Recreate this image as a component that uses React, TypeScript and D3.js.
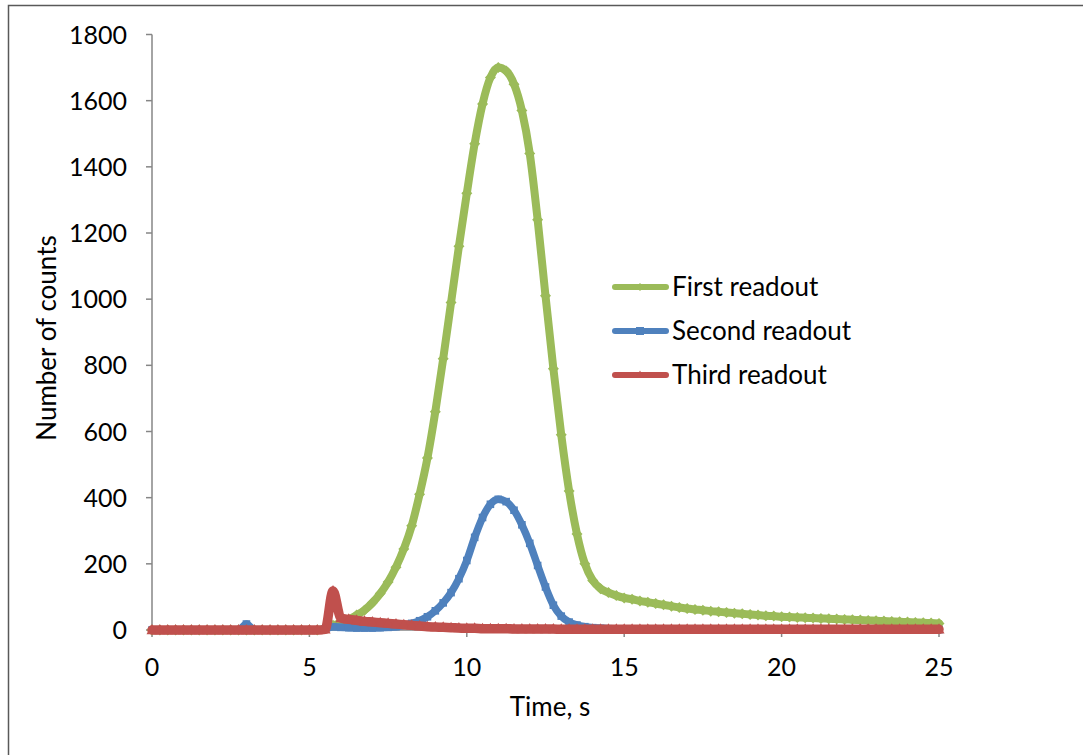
import React from 'react';
import * as d3 from 'd3';

// ---- data (time grid every 0.25 s, 101 samples from 0 to 25 s) ----
const times: number[] = d3.range(0, 25.0001, 0.25);

// each row = one second (t, t+0.25, t+0.5, t+0.75)
const firstReadout: number[] = [
  /* 0 */ 0, 0, 0, 0,
  /* 1 */ 0, 0, 0, 0,
  /* 2 */ 0, 0, 0, 0,
  /* 3 */ 0, 0, 0, 0,
  /* 4 */ 0, 0, 0, 0,
  /* 5 */ 0, 0, 5, 14,
  /* 6 */ 22, 32, 45, 60,
  /* 7 */ 82, 110, 145, 190,
  /* 8 */ 245, 315, 410, 520,
  /* 9 */ 660, 820, 990, 1160,
  /* 10 */ 1320, 1470, 1590, 1670,
  /* 11 */ 1700, 1690, 1650, 1570,
  /* 12 */ 1440, 1240, 1010, 790,
  /* 13 */ 590, 420, 290, 200,
  /* 14 */ 150, 125, 113, 104,
  /* 15 */ 97, 93, 88, 84,
  /* 16 */ 80, 76, 72, 68,
  /* 17 */ 65, 62, 60, 57,
  /* 18 */ 55, 53, 51, 49,
  /* 19 */ 47, 45, 43, 42,
  /* 20 */ 40, 39, 38, 37,
  /* 21 */ 36, 35, 34, 33,
  /* 22 */ 32, 31, 30, 29,
  /* 23 */ 28, 27, 26, 25,
  /* 24 */ 24, 23, 22, 21,
  /* 25 */ 20,
];

const secondReadout: number[] = [
  /* 0 */ 0, 0, 0, 0,
  /* 1 */ 0, 0, 0, 0,
  /* 2 */ 0, 0, 0, 0,
  /* 3 */ 18, 0, 0, 0,
  /* 4 */ 0, 0, 0, 0,
  /* 5 */ 0, 0, 3, 10,
  /* 6 */ 8, 7, 6, 6,
  /* 7 */ 6, 7, 8, 10,
  /* 8 */ 14, 20, 28, 40,
  /* 9 */ 58, 82, 113, 155,
  /* 10 */ 210, 280, 340, 380,
  /* 11 */ 395, 388, 362, 318,
  /* 12 */ 262, 195, 130, 75,
  /* 13 */ 42, 24, 15, 10,
  /* 14 */ 7, 5, 4, 3,
  /* 15 */ 3, 2, 2, 2,
  /* 16 */ 2, 2, 2, 2,
  /* 17 */ 2, 2, 2, 2,
  /* 18 */ 2, 2, 2, 2,
  /* 19 */ 2, 2, 1, 1,
  /* 20 */ 1, 1, 1, 1,
  /* 21 */ 1, 1, 1, 1,
  /* 22 */ 1, 1, 1, 1,
  /* 23 */ 1, 1, 1, 1,
  /* 24 */ 1, 1, 1, 1,
  /* 25 */ 1,
];

const thirdReadout: number[] = [
  /* 0 */ 0, 0, 0, 0,
  /* 1 */ 0, 0, 0, 0,
  /* 2 */ 0, 0, 0, 0,
  /* 3 */ 0, 0, 0, 0,
  /* 4 */ 0, 0, 0, 0,
  /* 5 */ 0, 0, 2, 118,
  /* 6 */ 36, 32, 29, 26,
  /* 7 */ 24, 22, 20, 18,
  /* 8 */ 16, 14, 12, 10,
  /* 9 */ 9, 8, 7, 6,
  /* 10 */ 5, 5, 4, 4,
  /* 11 */ 4, 4, 3, 3,
  /* 12 */ 3, 3, 3, 3,
  /* 13 */ 2, 2, 2, 2,
  /* 14 */ 2, 2, 2, 2,
  /* 15 */ 2, 2, 2, 2,
  /* 16 */ 2, 2, 2, 2,
  /* 17 */ 2, 2, 2, 2,
  /* 18 */ 2, 2, 2, 2,
  /* 19 */ 2, 2, 2, 2,
  /* 20 */ 2, 2, 2, 2,
  /* 21 */ 2, 2, 2, 2,
  /* 22 */ 2, 2, 2, 2,
  /* 23 */ 2, 2, 2, 2,
  /* 24 */ 2, 2, 2, 2,
  /* 25 */ 2,
];

const xTicks: number[] = [0, 5, 10, 15, 20, 25];
const yTicks: number[] = [0, 200, 400, 600, 800, 1000, 1200, 1400, 1600, 1800];

const seriesNames: string[] = ['First readout', 'Second readout', 'Third readout'];
const seriesColors: string[] = ['#9BBB59', '#4F81BD', '#C0504D'];
const seriesMarkers: string[] = ['diamond', 'square', 'triangle'];
const seriesData: number[][] = [firstReadout, secondReadout, thirdReadout];

const W = 1083;
const H = 755;
const FONT = 'Lato, "Open Sans", sans-serif';

function markerPath(kind: string, r: number): string {
  if (kind === 'diamond') return `M0,${-r}L${r},0L0,${r}L${-r},0Z`;
  if (kind === 'square') return `M${-r},${-r}H${r}V${r}H${-r}Z`;
  return `M0,${-r * 1.1}L${r},${r * 0.75}L${-r},${r * 0.75}Z`;
}

export default function App() {
  const x = d3.scaleLinear().domain([0, 25]).range([152, 939]);
  const y = d3.scaleLinear().domain([0, 1800]).range([630, 34.5]);

  const pts = (vals: number[]) =>
    vals
      .map((v, i) => ({ t: times[i], v }))
      .filter((p) => p.t !== undefined && isFinite(p.t));

  const lineGen = d3
    .line<{ t: number; v: number }>()
    .x((d) => x(d.t))
    .y((d) => y(d.v))
    .curve(d3.curveMonotoneX);

  const lineWidths = [8, 7.5, 9.5];
  const markerSizes = [5.5, 3.8, 5.5];

  const legendY = [287, 331, 375];

  return (
    <svg
      width={W}
      height={H}
      style={{ position: 'absolute', left: 0, top: 0, background: '#fff' }}
      fontFamily={FONT}
    >
      <rect x={0} y={0} width={W} height={H} fill="#fff" />
      <rect x={8.5} y={5.5} width={W + 50} height={H + 50} fill="none" stroke="#595959" strokeWidth={1.5} />

      {/* y axis */}
      <line x1={x(0)} x2={x(0)} y1={y(1800)} y2={y(0)} stroke="#868686" strokeWidth={1.5} />
      {yTicks.map((t) => (
        <g key={'y' + t}>
          <line x1={x(0) - 6} x2={x(0)} y1={y(t)} y2={y(t)} stroke="#868686" strokeWidth={1.5} />
          <text x={127} y={y(t)} dy="0.36em" textAnchor="end" fontSize={25} fill="#000">
            {t}
          </text>
        </g>
      ))}

      {/* x axis */}
      <line x1={x(0)} x2={x(25)} y1={y(0)} y2={y(0)} stroke="#868686" strokeWidth={1.5} />
      {xTicks.map((t) => (
        <g key={'x' + t}>
          <line x1={x(t)} x2={x(t)} y1={y(0)} y2={y(0) + 7} stroke="#868686" strokeWidth={1.5} />
          <text x={x(t)} y={676} textAnchor="middle" fontSize={25} fill="#000">
            {t}
          </text>
        </g>
      ))}

      {/* series */}
      {seriesData.map((vals, s) => {
        const p = pts(vals);
        return (
          <g key={'s' + s}>
            <path
              d={lineGen(p) || ''}
              fill="none"
              stroke={seriesColors[s]}
              strokeWidth={lineWidths[s]}
              strokeLinejoin="round"
              strokeLinecap="round"
            />
            {p.map((d, i) => (
              <path
                key={i}
                d={markerPath(seriesMarkers[s], markerSizes[s])}
                transform={`translate(${x(d.t)},${y(d.v)})`}
                fill={seriesColors[s]}
              />
            ))}
          </g>
        );
      })}

      {/* axis titles */}
      <text x={550} y={716} textAnchor="middle" fontSize={26} fill="#000">
        Time, s
      </text>
      <text transform="translate(56,338) rotate(-90)" textAnchor="middle" fontSize={26} fill="#000">
        Number of counts
      </text>

      {/* legend */}
      {seriesNames.map((name, s) => (
        <g key={'l' + s}>
          <line
            x1={615}
            x2={666}
            y1={legendY[s]}
            y2={legendY[s]}
            stroke={seriesColors[s]}
            strokeWidth={6}
            strokeLinecap="round"
          />
          <path
            d={markerPath(seriesMarkers[s], 4)}
            transform={`translate(640,${legendY[s]})`}
            fill={seriesColors[s]}
          />
          <text x={672} y={legendY[s] + 9} fontSize={26} fill="#000">
            {name}
          </text>
        </g>
      ))}
    </svg>
  );
}
